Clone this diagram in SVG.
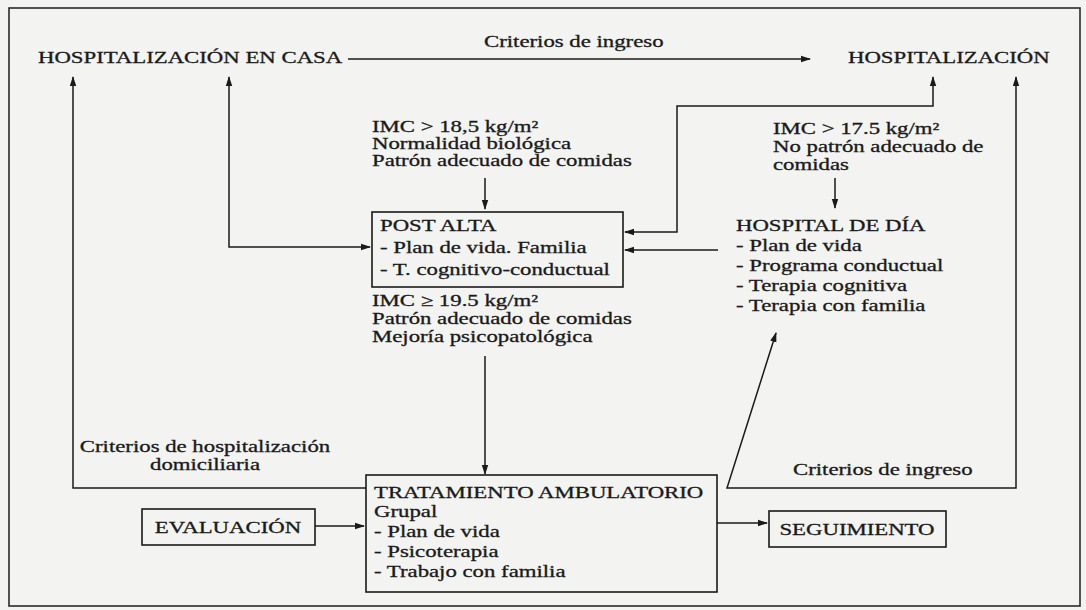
<svg xmlns="http://www.w3.org/2000/svg" width="1086" height="610" viewBox="0 0 1086 610">
  <defs>
    <marker id="arr" markerUnits="userSpaceOnUse" markerWidth="10" markerHeight="8" refX="9" refY="4" orient="auto-start-reverse">
      <path d="M0,0.8 L10,4 L0,7.2 z" fill="#1a1a1a"/>
    </marker>
    <style>
      .t { font-family: "Liberation Serif", "Times New Roman", serif; font-size: 16.5px; fill: #1a1a1a; stroke: #1a1a1a; stroke-width: 0.3; }
      .c { text-anchor: middle; }
      .box { fill: none; stroke: #1a1a1a; stroke-width: 1.6; }
      .ln { fill: none; stroke: #1a1a1a; stroke-width: 1.5; }
      .a { marker-end: url(#arr); }
      .b { marker-start: url(#arr); marker-end: url(#arr); }
    </style>
  </defs>
  <rect x="0" y="0" width="1086" height="610" fill="#f3f3f1"/>
  <rect x="9" y="8" width="1071" height="598" fill="none" stroke="#2a2a2a" stroke-width="1.6"/>

  <g id="connectors">
    <line class="ln a" x1="348" y1="59" x2="810" y2="59"/>
    <polyline class="ln a" points="366,488 73,488 73,77"/>
    <polyline class="ln b" points="229,77 229,247 370,247"/>
    <line class="ln a" x1="485" y1="178" x2="485" y2="209"/>
    <polyline class="ln b" points="933,77 933,106 677,106 677,232 625,232"/>
    <line class="ln a" x1="835" y1="178" x2="835" y2="208"/>
    <line class="ln a" x1="718" y1="250" x2="625" y2="250"/>
    <line class="ln a" x1="485" y1="356" x2="485" y2="474"/>
    <polyline class="ln b" points="776,333 727,488 1016,488 1016,77"/>
    <line class="ln a" x1="315" y1="526" x2="364" y2="526"/>
    <line class="ln a" x1="717" y1="523" x2="767" y2="523"/>
    <text class="t c" transform="translate(205,452) scale(1.38,1)">Criterios de hospitalización</text>
    <text class="t c" transform="translate(205,470) scale(1.38,1)">domiciliaria</text>
    <text class="t" transform="translate(484,47) scale(1.38,1)">Criterios de ingreso</text>
    <text class="t" transform="translate(793,475) scale(1.38,1)">Criterios de ingreso</text>
  </g>

  <g id="hosp-casa">
    <text class="t" transform="translate(38,63) scale(1.38,1)">HOSPITALIZACIÓN EN CASA</text>
  </g>
  <g id="hospitalizacion">
    <text class="t" transform="translate(848,63) scale(1.38,1)">HOSPITALIZACIÓN</text>
  </g>
  <g id="criterios-alta">
    <text class="t" transform="translate(372,132) scale(1.38,1)">IMC &gt; 18,5 kg/m²</text>
    <text class="t" transform="translate(372,149) scale(1.38,1)">Normalidad biológica</text>
    <text class="t" transform="translate(372,166) scale(1.38,1)">Patrón adecuado de comidas</text>
  </g>
  <g id="criterios-dia">
    <text class="t" transform="translate(773,134) scale(1.38,1)">IMC &gt; 17.5 kg/m²</text>
    <text class="t" transform="translate(773,152) scale(1.38,1)">No patrón adecuado de</text>
    <text class="t" transform="translate(773,170) scale(1.38,1)">comidas</text>
  </g>
  <g id="post-alta">
    <rect class="box" x="372" y="212" width="251" height="75"/>
    <text class="t" transform="translate(380,231) scale(1.38,1)">POST ALTA</text>
    <text class="t" transform="translate(380,253) scale(1.38,1)">- Plan de vida. Familia</text>
    <text class="t" transform="translate(380,275) scale(1.38,1)">- T. cognitivo-conductual</text>
  </g>
  <g id="hospital-dia">
    <text class="t" transform="translate(736,231) scale(1.38,1)">HOSPITAL DE DÍA</text>
    <text class="t" transform="translate(736,251) scale(1.38,1)">- Plan de vida</text>
    <text class="t" transform="translate(736,271) scale(1.38,1)">- Programa conductual</text>
    <text class="t" transform="translate(736,291) scale(1.38,1)">- Terapia cognitiva</text>
    <text class="t" transform="translate(736,311) scale(1.38,1)">- Terapia con familia</text>
  </g>
  <g id="criterios-ambulatorio">
    <text class="t" transform="translate(372,306) scale(1.38,1)">IMC ≥ 19.5 kg/m²</text>
    <text class="t" transform="translate(372,324) scale(1.38,1)">Patrón adecuado de comidas</text>
    <text class="t" transform="translate(372,342) scale(1.38,1)">Mejoría psicopatológica</text>
  </g>
  <g id="tratamiento">
    <rect class="box" x="366" y="475" width="351" height="117"/>
    <text class="t" transform="translate(374,498) scale(1.38,1)">TRATAMIENTO AMBULATORIO</text>
    <text class="t" transform="translate(374,517) scale(1.38,1)">Grupal</text>
    <text class="t" transform="translate(374,537) scale(1.38,1)">- Plan de vida</text>
    <text class="t" transform="translate(374,557) scale(1.38,1)">- Psicoterapia</text>
    <text class="t" transform="translate(374,577) scale(1.38,1)">- Trabajo con familia</text>
  </g>
  <g id="evaluacion">
    <rect class="box" x="142" y="509" width="173" height="36"/>
    <text class="t c" transform="translate(228,533) scale(1.38,1)">EVALUACIÓN</text>
  </g>
  <g id="seguimiento">
    <rect class="box" x="769" y="511" width="177" height="36"/>
    <text class="t c" transform="translate(857,535) scale(1.38,1)">SEGUIMIENTO</text>
  </g>
</svg>
